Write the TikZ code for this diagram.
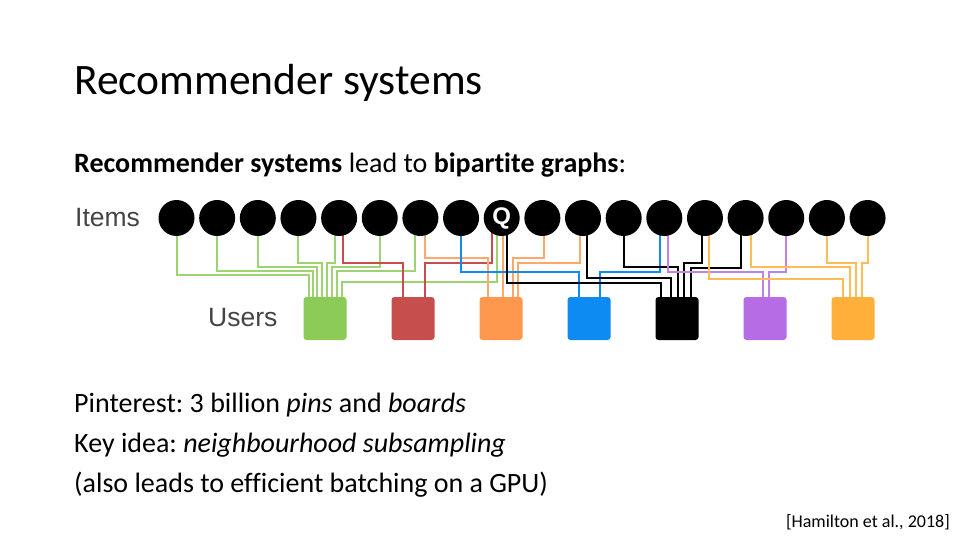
\documentclass[tikz,border=0pt]{standalone}
\usepackage{fontspec}
\setmainfont{Carlito}[Ligatures=NoCommon]
\newfontfamily\helv{Liberation Sans}
\usetikzlibrary{backgrounds}
\definecolor{ugreen}{HTML}{8CCB57}
\definecolor{ured}{HTML}{C64F4E}
\definecolor{uorange}{HTML}{FF984F}
\definecolor{ublue}{HTML}{0D8BF2}
\definecolor{ublack}{HTML}{000000}
\definecolor{upurple}{HTML}{B56CE5}
\definecolor{uyellow}{HTML}{FFB03A}
\definecolor{labelgrey}{HTML}{444444}
\frenchspacing
% item, shift at item, level, user, shift at user, colour
\newcommand{\wire}[6]{%
  \path ([xshift=#2pt]#1.center) coordinate (w1) ([xshift=#5pt]#4.north) coordinate (w2);
  \draw[wire, #6] (w1) -- (w1 |- 0,#3) -| (w2);}

\begin{document}
\begin{tikzpicture}[x=1pt, y=-1pt,
    item/.style = {circle, fill=black, minimum size=36pt, inner sep=0pt},
    user/.style = {rounded corners=3pt, minimum size=43pt, inner sep=0pt},
    txt/.style = {anchor=base west, inner sep=0pt, font=\fontsize{28}{32}\selectfont},
    side/.style = {anchor=west, inner sep=0pt, text=labelgrey, font=\helv\fontsize{26.5}{26.5}\selectfont},
    wire/.style = {line width=2pt}]
  \useasboundingbox (0,0) rectangle (960,540);
  \node at (74, 95) [txt, font=\fontsize{43.5}{50}\selectfont] (title) {Recommender systems};
  \node at (74, 172) [txt] (lead) {\textbf{Recommender systems} lead to \textbf{bipartite graphs}:};

  \node at (75, 218) [side] (items) {Items};
  \node at (208, 318) [side] (users) {Users};

  \foreach \i in {1,...,18}
    \node at ({176.5+40.65*(\i-1)}, 218) [item] (c\i) {};
  \node at (c9) [text=white, font=\helv\bfseries\fontsize{24}{24}\selectfont] (q) {Q};

  \foreach \col [count=\j] in {ugreen, ured, uorange, ublue, ublack, upurple, uyellow}
    \node at ({325+88*(\j-1)}, 318.5) [user, fill=\col] (u\j) {};

  \begin{pgfonlayer}{background}
    \wire{c1}{0}{275}{u1}{-16}{ugreen!85!white}
    \wire{c2}{0}{271}{u1}{-12}{ugreen!85!white}
    \wire{c3}{0}{267}{u1}{-8}{ugreen!85!white}
    \wire{c4}{0}{263}{u1}{-3}{ugreen!85!white}
    \wire{c5}{-4}{263}{u1}{2}{ugreen!85!white}
    \wire{c6}{0}{267}{u1}{7}{ugreen!85!white}
    \wire{c7}{-5}{271}{u1}{12}{ugreen!85!white}
    \wire{c9}{-5}{282}{u1}{17}{ugreen!85!white}

    \wire{c5}{4}{263}{u2}{-10}{ured}
    \wire{c9}{-10}{263}{u2}{12}{ured}

    \wire{c7}{4.5}{258}{u3}{-13.5}{uorange!85!white}
    \wire{c9}{1}{280}{u3}{2}{uorange!85!white}
    \wire{c10}{2}{258}{u3}{12}{uorange!85!white}
    \wire{c11}{-3}{263}{u3}{17}{uorange!85!white}

    \wire{c8}{0}{272}{u4}{-10}{ublue}
    \wire{c13}{-4.5}{272}{u4}{11}{ublue}

    \wire{c9}{5.5}{283}{u5}{-16.5}{ublack}
    \wire{c11}{4}{278}{u5}{-6.5}{ublack}
    \wire{c12}{0}{267}{u5}{0.5}{ublack}
    \wire{c14}{-3}{263}{u5}{6.5}{ublack}
    \wire{c15}{-5}{268}{u5}{13.5}{ublack}

    \wire{c13}{3.5}{272}{u6}{-2}{upurple!85!white}
    \wire{c16}{0}{272}{u6}{3.5}{upurple!85!white}

    \wire{c14}{4}{279}{u7}{-10}{uyellow!85!white}
    \wire{c15}{5}{267}{u7}{-3}{uyellow!85!white}
    \wire{c17}{0}{263}{u7}{3}{uyellow!85!white}
    \wire{c18}{0}{263}{u7}{9}{uyellow!85!white}
  \end{pgfonlayer}

  \node at (74, 412) [txt] (pins) {Pinterest: 3 billion \textit{pins} and \textit{boards}};
  \node at (74, 452) [txt] (idea) {Key idea: \textit{neighbourhood subsampling}};
  \node at (74, 492) [txt] (gpu) {(also leads to efficient batching on a GPU)};
  \node at (950, 527) [anchor=base east, inner sep=0pt, font=\fontsize{18}{20}\selectfont] (cite) {[Hamilton et al., 2018]};
\end{tikzpicture}
\end{document}
